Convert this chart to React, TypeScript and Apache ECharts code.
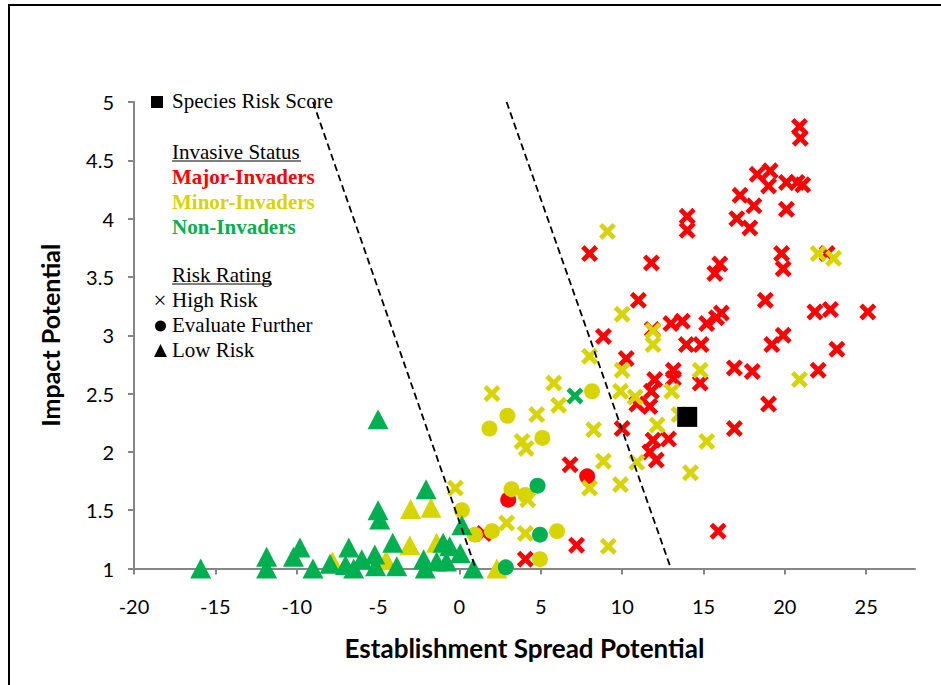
import React, { useEffect, useRef } from "react";
import * as echarts from "echarts";

// Tick values
const xTicks = [-20, -15, -10, -5, 0, 5, 10, 15, 20, 25];
const yTicks = [1, 1.5, 2, 2.5, 3, 3.5, 4, 4.5, 5];

// High Risk (X markers)
const majorHigh = [
  [20.9, 4.79], [20.95, 4.69], [18.3, 4.38], [19.1, 4.41], [19.0, 4.28], [20.1, 4.31], [20.75, 4.31], [21.1, 4.29],
  [17.25, 4.2], [18.1, 4.11], [17.05, 4.0], [17.85, 3.92], [20.1, 4.08], [14.0, 4.02], [14.0, 3.9], [11.8, 3.62],
  [19.8, 3.7], [19.9, 3.57], [22.6, 3.7], [16.0, 3.61], [15.7, 3.53], [18.8, 3.3], [11.0, 3.3], [8.0, 3.7],
  [13.0, 3.1], [13.7, 3.12], [15.2, 3.1], [15.8, 3.15], [16.1, 3.19], [21.85, 3.2], [22.8, 3.22], [25.1, 3.2],
  [8.85, 2.99], [13.95, 2.92], [14.85, 2.92], [19.2, 2.92], [19.9, 3.0], [23.2, 2.88], [10.25, 2.8], [16.9, 2.72],
  [18.0, 2.69], [22.05, 2.7], [13.15, 2.7], [13.15, 2.63], [14.8, 2.59], [12.0, 2.62], [11.8, 2.52], [11.7, 2.39],
  [10.9, 2.41], [19.0, 2.41], [16.9, 2.2], [10.0, 2.2], [11.9, 2.1], [12.85, 2.11], [11.7, 2.0], [12.1, 1.93],
  [6.8, 1.89], [15.9, 1.32], [7.2, 1.2], [4.05, 1.08], [1.5, 1.3], [11.85, 3.05],
];
const minorHigh = [
  [9.1, 3.89], [10.0, 3.18], [11.9, 3.04], [11.9, 2.92], [8.0, 2.82], [10.0, 2.7], [14.8, 2.7], [5.8, 2.59],
  [6.1, 2.4], [9.9, 2.52], [10.8, 2.47], [13.05, 2.52], [8.25, 2.19], [12.15, 2.23], [15.2, 2.09], [2.0, 2.5],
  [4.75, 2.32], [3.85, 2.09], [4.1, 2.03], [8.85, 1.92], [8.0, 1.69], [9.9, 1.72], [-0.25, 1.69], [4.2, 1.59],
  [2.9, 1.39], [4.05, 1.3], [9.15, 1.19], [10.9, 1.91], [14.2, 1.82], [20.9, 2.62], [22.05, 3.7], [23.0, 3.66],
  [13.5, 2.32],
];
const nonHigh = [[7.1, 2.48]];

// Evaluate Further (circles)
const majorEval = [[7.85, 1.79], [3.0, 1.59]];
const minorEval = [
  [1.85, 2.2], [2.95, 2.31], [5.1, 2.12], [8.15, 2.52], [3.2, 1.68], [4.05, 1.63], [0.15, 1.5], [0.95, 1.29],
  [2.0, 1.32], [6.0, 1.32], [4.95, 1.08],
];
const nonEval = [[4.8, 1.71], [4.95, 1.29], [2.85, 1.01]];

// Low Risk (triangles)
const minorLow = [[-3.0, 1.51], [-1.75, 1.52], [-3.05, 1.2], [-7.8, 1.06], [-4.5, 1.07], [-1.4, 1.22], [2.3, 1.0]];
const nonLow = [
  [-15.9, 1.0], [-11.85, 1.1], [-11.85, 1.0], [-10.2, 1.1], [-9.8, 1.18], [-9.0, 1.0], [-7.95, 1.04], [-7.0, 1.03],
  [-6.8, 1.18], [-6.5, 1.0], [-6.0, 1.08], [-5.2, 1.12], [-5.15, 1.02], [-5.0, 2.28], [-5.0, 1.5], [-4.9, 1.42],
  [-4.1, 1.22], [-3.85, 1.02], [-2.05, 1.68], [-2.2, 1.08], [-2.1, 1.0], [-1.4, 1.06], [-1.0, 1.22], [-0.6, 1.19],
  [-0.8, 1.06], [0.15, 1.37], [0.05, 1.13], [0.85, 1.0],
];

// Species risk score
const riskScore = [[14.0, 2.3]];

// Dashed boundary lines
const boundary1 = [[-9, 5], [1, 1]];
const boundary2 = [[2.9, 5], [13.0, 1]];

const RED = "#ff0000";
const YELLOW = "#d8d400";
const GREEN = "#00b050";
const X_SYMBOL = "path://M0,2L2,0L5,3L8,0L10,2L7,5L10,8L8,10L5,7L2,10L0,8L3,5Z";

export default function App() {
  const ref = useRef<HTMLDivElement>(null);
  useEffect(() => {
    const chart = echarts.init(ref.current!, null, { renderer: "svg" });
    const sc = (name: string, data: number[][], symbol: string, size: any, color: string) => ({
      type: "scatter",
      name,
      data,
      symbol,
      symbolSize: size,
      itemStyle: { color, opacity: 1 },
      clip: false,
      silent: true,
    });
    const dash = (data: number[][]) => ({
      type: "line",
      data,
      symbol: "none",
      clip: false,
      silent: true,
      lineStyle: { color: "#000", width: 1.8, type: [7, 4] },
    });
    const serif = "'Liberation Serif', 'Times New Roman', serif";
    const legendText = (text: string, y: number, color = "#000", bold = false) => ({
      type: "text",
      x: 172,
      y,
      silent: true,
      style: {
        text,
        fontSize: 21,
        fontFamily: serif,
        fontWeight: bold ? "bold" : "normal",
        fill: color,
        verticalAlign: "middle",
        align: "left",
      },
    });
    const option: any = {
      animation: false,
      backgroundColor: "#fff",
      grid: { left: 134, top: 102, right: 26, bottom: 116.5, containLabel: false },
      xAxis: {
        type: "value",
        min: -20,
        max: 28,
        interval: 5,
        splitLine: { show: false },
        axisLine: { onZero: false, lineStyle: { color: "#868686", width: 2 } },
        axisTick: { show: true, length: 6, customValues: xTicks, lineStyle: { color: "#868686", width: 2 } },
        axisLabel: { customValues: xTicks, color: "#000", fontSize: 20, fontFamily: "Lato", margin: 27 },
        name: "Establishment Spread Potential",
        nameLocation: "middle",
        nameGap: 66,
        nameTextStyle: { fontSize: 26, fontWeight: "bold", fontFamily: "Lato", color: "#000" },
      },
      yAxis: {
        type: "value",
        min: 1,
        max: 5,
        interval: 0.5,
        splitLine: { show: false },
        axisLine: { show: true, onZero: false, lineStyle: { color: "#868686", width: 2 } },
        axisTick: { show: true, length: 6, customValues: yTicks, lineStyle: { color: "#868686", width: 2 } },
        axisLabel: { customValues: yTicks, color: "#000", fontSize: 20, fontFamily: "Lato", margin: 20 },
        name: "Impact Potential",
        nameLocation: "middle",
        nameGap: 72,
        nameTextStyle: { fontSize: 25, fontWeight: "bold", fontFamily: "Lato", color: "#000" },
      },
      series: [
        sc("Major Evaluate", majorEval, "circle", 16, RED),
        sc("Major High", majorHigh, X_SYMBOL, 17, RED),
        sc("Minor Evaluate", minorEval, "circle", 16, YELLOW),
        sc("Minor High", minorHigh, X_SYMBOL, 17, YELLOW),
        sc("Non High", nonHigh, X_SYMBOL, 17, GREEN),
        sc("Minor Low", minorLow, "triangle", [21, 20], YELLOW),
        sc("Non Low", nonLow, "triangle", [21, 20], GREEN),
        sc("Non Evaluate", nonEval, "circle", 16, GREEN),
        dash(boundary1),
        dash(boundary2),
        sc("Species Risk Score", riskScore, "rect", 20, "#000"),
      ],
      graphic: {
        elements: [
          {
            type: "rect",
            silent: true,
            shape: { x: 9, y: 5, width: 1000, height: 1000 },
            style: { fill: "none", stroke: "#000", lineWidth: 2 },
          },
          { type: "rect", silent: true, shape: { x: 151, y: 96, width: 12, height: 12 }, style: { fill: "#000" } },
          legendText("Species Risk Score", 101),
          legendText("Invasive Status", 152),
          { type: "line", silent: true, shape: { x1: 172, y1: 161, x2: 301, y2: 161 }, style: { stroke: "#000", lineWidth: 1 } },
          legendText("Major-Invaders", 177, RED, true),
          legendText("Minor-Invaders", 202, YELLOW, true),
          legendText("Non-Invaders", 227, GREEN, true),
          legendText("Risk Rating", 275),
          { type: "line", silent: true, shape: { x1: 172, y1: 284, x2: 272, y2: 284 }, style: { stroke: "#000", lineWidth: 1 } },
          {
            type: "text",
            x: 160,
            y: 300,
            silent: true,
            style: { text: "×", fontSize: 23, fontFamily: serif, fill: "#000", align: "center", verticalAlign: "middle" },
          },
          legendText("High Risk", 300),
          { type: "circle", silent: true, shape: { cx: 160.5, cy: 326, r: 5.5 }, style: { fill: "#000" } },
          legendText("Evaluate Further", 325),
          {
            type: "polygon",
            silent: true,
            shape: { points: [[154, 357], [167, 357], [160.5, 344]] },
            style: { fill: "#000" },
          },
          legendText("Low Risk", 350),
        ],
      },
    };
    chart.setOption(option);
    return () => chart.dispose();
  }, []);
  return (
    <div
      ref={ref}
      style={{ position: "fixed", left: 0, top: 0, width: 941, height: 685, background: "#fff" }}
    />
  );
}
